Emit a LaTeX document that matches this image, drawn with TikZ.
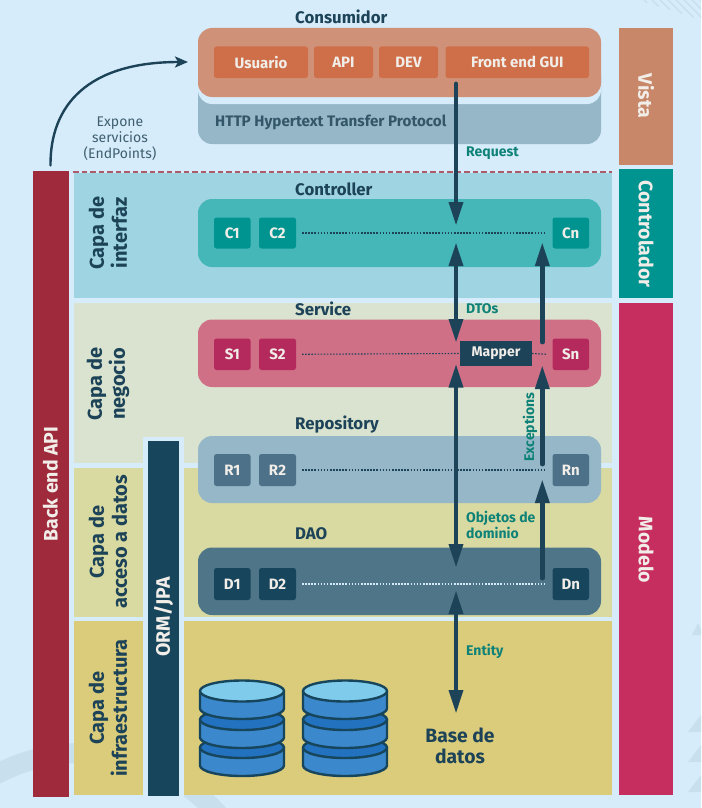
\documentclass[tikz,border=0pt]{standalone}
\usepackage{fontspec}
\setmainfont{Fira Sans}
\usetikzlibrary{arrows.meta}
\definecolor{bgc}{HTML}{D6ECFA}
\definecolor{decor}{HTML}{C8DFEE}
\definecolor{ink}{HTML}{1D4358}
\definecolor{navy}{HTML}{17455C}
\definecolor{greenlab}{HTML}{0F8278}
\definecolor{paper}{HTML}{F1EDE8}
\definecolor{backred}{HTML}{9E2A3B}
\definecolor{bandA}{HTML}{9FD5E2}
\definecolor{bandB}{HTML}{D9E3CF}
\definecolor{bandC}{HTML}{D9DAA2}
\definecolor{bandD}{HTML}{DBCC7B}
\definecolor{vista}{HTML}{C78768}
\definecolor{teal}{HTML}{009490}
\definecolor{model}{HTML}{C72E60}
\definecolor{grpO}{HTML}{CF9279}
\definecolor{boxO}{HTML}{CF6F4A}
\definecolor{grpH}{HTML}{95B7C8}
\definecolor{grpC}{HTML}{46B7B9}
\definecolor{grpS}{HTML}{D07087}
\definecolor{boxS}{HTML}{B42A5C}
\definecolor{boxR}{HTML}{4D7188}
\definecolor{grpD}{HTML}{4F7589}
\definecolor{dbtop}{HTML}{7FCBEC}
\definecolor{dbbody}{HTML}{3B88CC}
\definecolor{dbdark}{HTML}{2272C0}
\newcommand{\bx}[7][]{%
  \pgfmathsetmacro\bxcx{(#4+#6)/2}\pgfmathsetmacro\bxcy{(#5+#7)/2}%
  \pgfmathsetmacro\bxw{#6-#4}\pgfmathsetmacro\bxh{#7-#5}%
  \node[#2,minimum width=\bxw pt,minimum height=\bxh pt,inner sep=0pt,outer sep=0pt] (#3) at (\bxcx,\bxcy) {#1};}
\newcommand{\dbtier}[3]{% y, side height, fill of top
  \draw[dbline,fill=dbbody] (-42,#1) -- (-42,#1+#2) arc[start angle=180,end angle=360,x radius=42pt,y radius=10.5pt] -- (42,#1) -- cycle;
  \draw[dbline,fill=#3] (0,#1) ellipse[x radius=42pt,y radius=10.5pt];}
\tikzset{
  grp/.style={rounded corners=14pt},
  item/.style={rounded corners=2.5pt,text=paper,font=\fontsize{15}{17}\selectfont\bfseries},
  side/.style={text=paper,font=\fontsize{19.5}{22}\selectfont\bfseries},
  title/.style={anchor=west,text=ink,inner sep=0pt,font=\fontsize{16.8}{19}\selectfont\bfseries},
  lab/.style={anchor=west,text=greenlab,inner sep=0pt,align=left,font=\fontsize{14}{15.5}\selectfont\bfseries},
  layer/.style={rotate=90,align=center,text=ink,inner sep=0pt,font=\fontsize{20}{23}\selectfont\bfseries},
  vert/.style={text=paper,inner sep=0pt,font=\fontsize{19.5}{22}\selectfont\bfseries},
  flow/.style={draw=ink,line width=4.8pt},
  up/.style={flow,line cap=round,-{Triangle[width=13.5pt,length=24pt]}},
  both/.style={flow,{Triangle[width=13.5pt,length=24pt]}-{Triangle[width=13.5pt,length=24pt]}},
  dots/.style={line width=1.1pt,dash pattern=on 1.6pt off 1.5pt},
  dbline/.style={draw=navy,line width=2.4pt,line join=round},
}
\begin{document}
\begin{tikzpicture}[x=1pt,y=-1pt]
\useasboundingbox (0,0) rectangle (701,808);
\fill[bgc] (0,0) rectangle (701,808);
% faint decoration
\begin{scope}
\clip (0,0) rectangle (701,808);
\fill[decor,even odd rule] (82,935) circle[radius=192pt] (82,935) circle[radius=172pt];
\foreach \x in {644,652,...,700}
  \draw[decor,line width=1.4pt] (\x,0) -- ++({(\x-642)*0.45+2},{(\x-642)*0.45+2});
\fill[decor] (692,635) -- (698,623) -- (704,635) -- cycle;
\fill[decor] (688,732) -- (701,715) -- (714,732) -- cycle;
\fill[decor] (688,762) -- (701,745) -- (714,762) -- cycle;
\fill[decor] (688,792) -- (701,775) -- (714,792) -- cycle;
\end{scope}
% layer bands
\bx{fill=bandA}{bandI}{74}{173}{612}{298}{}
\bx{fill=bandB}{bandN}{74}{303}{612}{463}{}
\bx{fill=bandC}{bandA}{74}{468}{612}{617}{}
\bx{fill=bandD}{bandF}{74}{621}{612}{795}{}
\fill[bgc] (143,437) rectangle (184,800);
\fill[bgc] (143,463) rectangle (198,468);
\bx{fill=navy}{orm}{148}{441}{179}{796}{}
\node[rotate=90,vert] (ormt) at (163.5,617) {ORM/JPA};
\bx{fill=backred}{back}{32.5}{171}{69}{797}{}
\node[rotate=90,vert] (backt) at (50.5,484) {Back end API};
\draw[backred!75!bgc,line width=1.4pt,dash pattern=on 5.5pt off 3pt] (73,172) -- (612,172);
% right column
\bx{fill=vista}{vistaB}{619}{28}{673}{165}{}
\bx{fill=teal}{ctrlB}{619}{169}{673}{298}{}
\bx{fill=model}{modelB}{619}{303}{673}{795}{}
\node[rotate=-90,side] (vistaT) at (646,96) {Vista};
\node[rotate=-90,side] (ctrlT) at (646,234) {Controlador};
\node[rotate=-90,side] (modelT) at (646,550) {Modelo};
% layer names
\node[layer] (l1) at (108,233) {Capa de\\interfaz};
\node[layer] (l2) at (108,384) {Capa de\\negocio};
\node[layer] (l3) at (108,542) {Capa de\\acceso a datos};
\node[layer] (l4) at (108,708) {Capa de\\infraestructura};
% consumer
\bx{fill=grpH,grp}{http}{198}{60}{601}{144}{}
\bx{fill=bgc,grp}{gap}{198}{28}{601}{104}{}
\bx{fill=grpO,grp}{cons}{198}{28}{601}{97}{}
\bx[Usuario]{fill=boxO,item}{usu}{214}{46.5}{308}{78}
\bx[API]{fill=boxO,item}{api}{314}{46.5}{373}{78}
\bx[DEV]{fill=boxO,item}{dev}{379}{46.5}{438}{78}
\bx[Front end GUI]{fill=boxO,item}{gui}{445.5}{46.5}{589}{78}
\node[anchor=west,inner sep=0pt,text=ink!90,font=\fontsize{15.2}{17}\selectfont\bfseries] (httpT) at (215,122) {HTTP Hypertext Transfer Protocol};
\node[title] (tCons) at (295,17) {Consumidor};
% groups
\bx{fill=grpC,grp}{gC}{198}{199}{601}{267}{}
\bx{fill=grpS,grp}{gS}{198}{319.5}{601}{387}{}
\bx{fill=grpH,grp}{gR}{198}{436}{601}{503}{}
\bx{fill=grpD,grp}{gD}{198}{547.5}{601}{615}{}
\node[title] (tC) at (295,189) {Controller};
\node[title] (tS) at (295,309) {Service};
\node[title] (tR) at (295,424.5) {Repository};
\node[title] (tD) at (295,534) {DAO};
\bx[C1]{fill=teal,item}{C1}{214}{217.5}{250.5}{248.5}
\bx[C2]{fill=teal,item}{C2}{259}{217.5}{296}{248.5}
\bx[Cn]{fill=teal,item}{Cn}{552.5}{217.5}{589}{248.5}
\bx[S1]{fill=boxS,item}{S1}{214}{338.5}{250.5}{370}
\bx[S2]{fill=boxS,item}{S2}{259}{338.5}{296}{370}
\bx[Sn]{fill=boxS,item}{Sn}{552.5}{338.5}{589}{370}
\bx[R1]{fill=boxR,item}{R1}{214}{454}{250.5}{486}
\bx[R2]{fill=boxR,item}{R2}{259}{454}{296}{486}
\bx[Rn]{fill=boxR,item}{Rn}{552.5}{454}{589}{486}
\bx[D1]{fill=navy,item}{D1}{214}{568}{250.5}{600}
\bx[D2]{fill=navy,item}{D2}{259}{568}{296}{600}
\bx[Dn]{fill=navy,item}{Dn}{552.5}{568}{589}{600}
\bx[Mapper]{fill=ink,item,rounded corners=0pt,font=\fontsize{14}{16}\selectfont\bfseries}{map}{460}{341}{532}{366}
\draw[dots,draw=ink] ([xshift=6pt]C2.east) -- ([xshift=-6pt]Cn.west);
\draw[dots,draw=ink] ([xshift=6pt]S2.east) -- (map.west);
\draw[dots,draw=ink] (map.east) -- ([xshift=-6pt]Sn.west);
\draw[dots,draw=ink] ([xshift=6pt]R2.east) -- ([xshift=-6pt]Rn.west);
\draw[dots,draw=bgc] ([xshift=6pt]D2.east) -- ([xshift=-6pt]Dn.west);
% database
\foreach \dx/\dn in {242/a,345/b}{
\begin{scope}[shift={(\dx,0)}]
\dbtier{747.5}{18}{dbdark}
\dbtier{719.5}{18}{dbdark}
\dbtier{691}{17.5}{dbtop}
\end{scope}}
\node[text=ink,align=center,inner sep=0pt,font=\fontsize{19.3}{21}\selectfont\bfseries] (base) at (460,745.5) {Base de\\datos};
% labels
\node[lab] (lReq) at (466,153.5) {Request};
\node[lab] (lDto) at (466,309) {DTOs};
\node[lab] (lObj) at (466,525) {Objetos de\\dominio};
\node[lab] (lEnt) at (466,651) {Entity};
\node[lab,anchor=center,rotate=90] (lExc) at (530,427) {Exceptions};
\node[align=center,inner sep=0pt,text=ink!85,font=\fontsize{14}{16}\selectfont] (expo) at (120,139) {Expone\\servicios\\(EndPoints)};
% flows
\coordinate (a0) at (456,84);
\coordinate (a1) at (456,226);
\coordinate (b0) at (456,242);
\coordinate (b1) at (456,343);
\coordinate (c0) at (456,363.5);
\coordinate (c1) at (456,568);
\coordinate (d0) at (456,590);
\coordinate (d1) at (456,714);
\coordinate (e0) at (542.3,342);
\coordinate (e1) at (542.3,242);
\coordinate (f0) at (542.3,464);
\coordinate (f1) at (542.3,365);
\coordinate (g0) at (542.3,578);
\coordinate (g1) at (542.3,479);
\draw[up] (a0) -- (a1);
\draw[both] (b0) -- (b1);
\draw[both] (c0) -- (c1);
\draw[both] (d0) -- (d1);
\draw[up] (e0) -- (e1);
\draw[up] (f0) -- (f1);
\draw[up] (g0) -- (g1);
\coordinate (k0) at (50.5,165.5);
\coordinate (k1) at (188,62);
\draw[draw=ink,line width=2.4pt,line cap=round,-{Stealth[width=11pt,length=13pt,inset=3pt]}] (k0) .. controls (50,105) and (88,62) .. (k1);
\end{tikzpicture}
\end{document}
